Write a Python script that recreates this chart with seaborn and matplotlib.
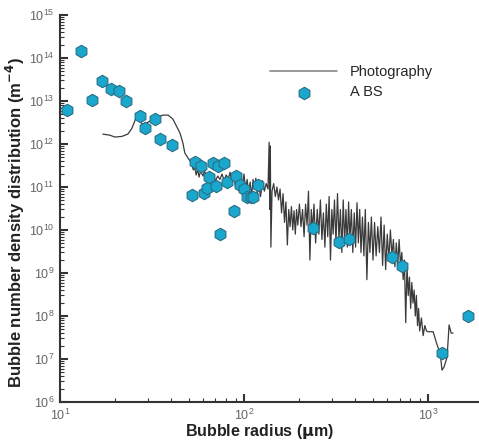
import matplotlib
matplotlib.use("Agg")
import matplotlib.pyplot as plt
import seaborn as sns
import pandas as pd

# Photography curve (bubble radius in um, density in m^-4)
photo_r = [17.1, 18.7, 19.9, 21.7, 23.4, 24.6, 25.9, 26.9, 28.2, 30.1, 32.0, 34.1, 36.3, 38.7,
           41.1, 44.9, 46.6, 47.7, 49.7, 51.0,
           52, 53, 54, 55, 56, 57, 58, 60, 61, 63, 64, 66, 68, 70, 72, 74, 76, 78, 80, 82,
           84, 86, 88, 90, 92, 94, 96, 98, 100, 102, 104, 106, 108, 110, 112, 114, 116, 118,
           120, 123, 126, 129, 132, 135, 137, 138, 139, 140, 142,
           145, 148, 151, 154, 157, 160, 163, 166, 169, 172, 175, 178, 181, 184, 187, 190,
           193, 196, 200, 204, 208, 212, 216, 220, 224, 228, 232, 236, 240, 245, 250, 255,
           260, 265, 270, 275, 280, 285, 290, 295, 300, 305, 310, 316, 322, 328, 334, 340,
           346, 352, 358, 364, 370, 376, 383, 390, 397, 404, 411, 418, 425, 432, 440, 448,
           456, 465, 474, 483, 492, 502, 512, 522, 533, 544, 555, 566, 577, 588, 600, 612,
           624, 636, 648, 660, 672, 684, 696, 708, 720, 732, 744, 756, 768, 780, 792, 804,
           816, 828, 840, 852, 864, 876, 888, 900, 920, 940, 960, 980, 1000, 1065, 1120,
           1162, 1190, 1220, 1268, 1300, 1334, 1367]
photo_n = [1.7e12, 1.6e12, 1.45e12, 1.5e12, 1.7e12, 2.3e12, 4.0e12, 3.4e12, 2.9e12, 3.2e12,
           3.8e12, 4.3e12, 4.7e12, 4.7e12,
           3.8e12, 1.8e12, 1.05e12, 6.2e11, 4.7e11, 4.0e11,
           3.6e11, 2.5e11, 2.8e11, 1.9e11, 2.6e11, 1.7e11, 2.3e11, 1.8e11, 2.4e11, 1.6e11,
           2.1e11, 1.5e11, 1.9e11, 1.4e11, 1.8e11, 1.5e11, 2.0e11, 1.4e11, 1.9e11, 1.5e11,
           2.2e11, 1.3e11, 1.8e11, 1.0e11, 1.6e11, 9e10, 1.7e11, 1.1e11, 2.0e11, 8e10,
           1.5e11, 7e10, 1.3e11, 6e10, 1.5e11, 9e10, 1.6e11, 7e10,
           1.2e11, 6e10, 1.4e11, 8e10, 1.2e11, 9e10, 1.1e12, 3e10, 9e11, 4e9, 8e10,
           1.2e11, 6e10, 1.0e11, 5e10, 9e10, 2.5e10, 7e10, 1.5e10, 4.5e10, 4.5e9, 3e10,
           1.2e10, 3.5e10, 1.0e10, 2.8e10, 8e9,
           3e10, 1.3e10, 4e10, 1.2e10, 3e10, 7e9, 4e10, 1.3e10, 8e10, 2e9, 3e10, 1e10,
           4e10, 5e9, 3e10, 8e9,
           5e10, 6e9, 2.5e10, 4e9, 4e10, 7e9, 6e10, 2e9, 3e10, 8e9, 5e10, 5e9, 7e10, 6e9,
           3e10, 3e9,
           5e10, 5e9, 3e10, 4e9, 4.5e10, 6e9, 3e10, 3e9, 2.5e10, 4e9, 4.3e10, 5e9, 3e10,
           3e9, 2e10, 2.5e9,
           3e10, 7e8, 1.5e10, 3e9, 2e10, 2e9, 1.5e10, 2.5e9, 1.2e10, 3e9, 2e10, 1.5e9,
           1.3e10, 1.2e9, 8e9, 2e9,
           1e10, 2.5e9, 6e9, 1.4e9, 5e9, 1.5e9, 6e9, 1.5e9, 3e9, 7e8, 2e9, 7e7, 1.5e9,
           3e8, 8e8, 1.5e8,
           6e8, 2e8, 4e8, 1e8, 3e8, 6e7, 1.5e8, 4.5e7, 9e7, 3.5e7, 6e7, 4.5e7, 4.3e7,
           4.3e7, 2.1e7,
           1.4e7, 5.5e6, 6.5e6, 1.1e7, 6.2e7, 4e7, 4e7]

# ABS measurements
abs_r = [10.9, 13.0, 14.9, 16.9, 18.9, 20.9, 22.9, 27.2, 29.0, 32.8, 34.9, 40.6,
         54.2, 58.4, 52.1, 60.7, 63.0, 64.6, 70.5, 68.0, 72.3, 77.8, 80.9, 90.6,
         88.3, 74.1, 95.1, 100, 104, 109, 112, 119, 237, 328, 372, 637, 722, 1190, 1650]
abs_n = [6.2e12, 1.45e14, 1.05e13, 2.9e13, 1.9e13, 1.7e13, 1.0e13, 4.5e12, 2.3e12,
         3.8e12, 1.3e12, 9.5e11,
         3.8e11, 3.1e11, 6.5e10, 7.3e10, 9.6e10, 1.7e11, 1.05e11, 3.6e11, 3.1e11,
         3.6e11, 1.3e11, 1.8e11,
         2.8e10, 8.2e9, 1.1e11, 9e10, 5.9e10, 6e10, 5.9e10, 1.1e11, 1.1e10, 5.3e9,
         6.2e9, 2.4e9, 1.45e9, 1.4e7, 1.0e8]

photo = pd.DataFrame({"r": photo_r, "n": photo_n})
abs_df = pd.DataFrame({"r": abs_r, "n": abs_n})

sns.set_style("ticks")
plt.rcParams["font.family"] = ["Liberation Sans", "DejaVu Sans"]

fig = plt.figure(figsize=(4.79, 4.40), dpi=100)
ax = fig.add_axes([0.125, 0.0864, 0.875, 0.8795])

sns.lineplot(data=photo, x="r", y="n", ax=ax, color="#3a3a3a", lw=0.9,
             sort=False, label="Photography")
sns.scatterplot(data=abs_df, x="r", y="n", ax=ax, marker="h", s=80,
                color="#19a7ce", edgecolor="#2b6e84", linewidth=0.8,
                label="A BS", zorder=3)

ax.set_xscale("log")
ax.set_yscale("log")
ax.set_xlim(10, 1890)
ax.set_ylim(1e6, 1e15)
ax.set_yticks([10.0 ** k for k in range(6, 16)])

for side in ["top", "right"]:
    ax.spines[side].set_visible(False)
for side in ["left", "bottom"]:
    ax.spines[side].set_color("#333333")
    ax.spines[side].set_linewidth(1.5)

ax.tick_params(which="major", direction="in", length=6, width=1.5, color="#333333",
               labelsize=9, labelcolor="#666666")
ax.tick_params(axis="x", which="major", pad=4)
ax.tick_params(axis="y", which="major", pad=4)
ax.tick_params(which="minor", direction="in", length=3, width=0.8, color="#333333")

ax.set_xlabel("Bubble radius ($\\mathbf{\\mu}$m)", fontsize=11.5, fontweight="bold",
              color="#222222")
ax.set_ylabel("Bubble number density distribution (m$^{\\mathbf{-4}}$)", fontsize=12,
              fontweight="bold", color="#222222")
ax.xaxis.label.set_va("center")
ax.xaxis.set_label_coords(0.477, -0.075)
ax.yaxis.label.set_va("center")
ax.yaxis.set_label_coords(-0.105, 0.465)

leg = ax.legend(loc="upper left", bbox_to_anchor=(0.47, 0.905), frameon=False,
                fontsize=10.5, handlelength=4.6, handletextpad=0.9, labelspacing=0.45)
leg.get_lines()[0].set_color("#888888")
leg.get_lines()[0].set_linewidth(1.2)

fig.savefig("out.png", dpi=100)
